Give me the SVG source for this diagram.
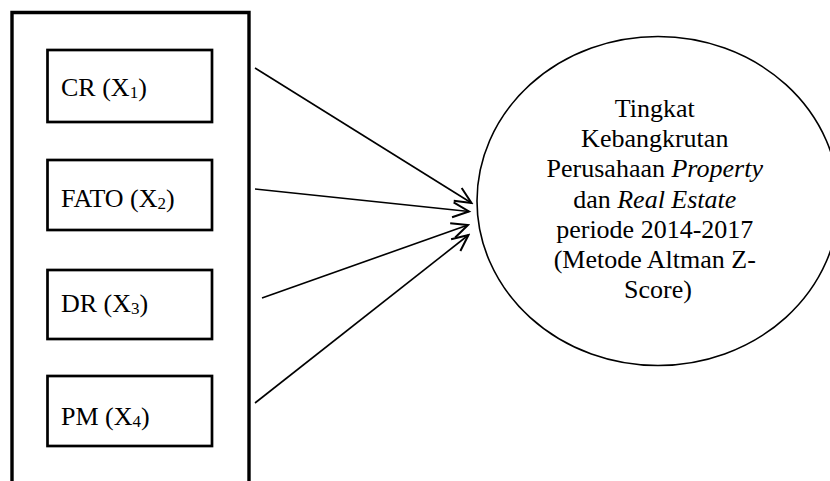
<svg xmlns="http://www.w3.org/2000/svg" width="830" height="481" viewBox="0 0 830 481">
<style>
.t{font-family:"Liberation Serif","Times New Roman",serif;font-size:26px;fill:#000}
.s{font-size:17px}
.box{fill:none;stroke:#000;stroke-width:2.7}
.ln{fill:none;stroke:#000;stroke-width:1.6}
</style>
<defs>
<marker id="ah" markerUnits="userSpaceOnUse" markerWidth="20" markerHeight="20" viewBox="-14 -8 16 16" refX="0" refY="0" orient="auto">
<path d="M-13,-6 L0,0 L-13,6" fill="none" stroke="#000" stroke-width="1.6"/>
</marker>
</defs>
<rect width="830" height="481" fill="#fff"/>
<g id="outer">
<path d="M12,485 V12.5 H249 V485" fill="none" stroke="#000" stroke-width="3.4"/>
</g>
<g id="cr">
<rect class="box" x="47.5" y="50" width="164.5" height="72"/>
<text class="t" x="61" y="96">CR (X<tspan class="s" dy="2">1</tspan><tspan dy="-2">)</tspan></text>
</g>
<g id="fato">
<rect class="box" x="47.5" y="160" width="164.5" height="70"/>
<text class="t" x="61" y="207">FATO (X<tspan class="s" dy="2">2</tspan><tspan dy="-2">)</tspan></text>
</g>
<g id="dr">
<rect class="box" x="47.5" y="270" width="164.5" height="69"/>
<text class="t" x="61" y="312">DR (X<tspan class="s" dy="2">3</tspan><tspan dy="-2">)</tspan></text>
</g>
<g id="pm">
<rect class="box" x="47.5" y="376" width="164.5" height="70"/>
<text class="t" x="61" y="425">PM (X<tspan class="s" dy="2">4</tspan><tspan dy="-2">)</tspan></text>
</g>
<g id="connectors">
<line class="ln" x1="255" y1="68" x2="471.5" y2="203" marker-end="url(#ah)"/>
<line class="ln" x1="255" y1="189" x2="469" y2="211.5" marker-end="url(#ah)"/>
<line class="ln" x1="262" y1="298" x2="468" y2="225" marker-end="url(#ah)"/>
<line class="ln" x1="255" y1="403" x2="468.5" y2="235" marker-end="url(#ah)"/>
</g>
<g id="target">
<ellipse cx="658" cy="201" rx="181" ry="164.5" fill="none" stroke="#000" stroke-width="1.6"/>
<text class="t" text-anchor="middle">
<tspan x="658" y="117">Tingkat</tspan>
<tspan x="658" y="147">Kebangkrutan</tspan>
<tspan x="658" y="177">Perusahaan <tspan font-style="italic">Property</tspan></tspan>
<tspan x="658" y="208">dan <tspan font-style="italic">Real Estate</tspan></tspan>
<tspan x="658" y="238">periode 2014-2017</tspan>
<tspan x="658" y="268">(Metode Altman Z-</tspan>
<tspan x="658" y="298">Score)</tspan>
</text>
</g>
</svg>
